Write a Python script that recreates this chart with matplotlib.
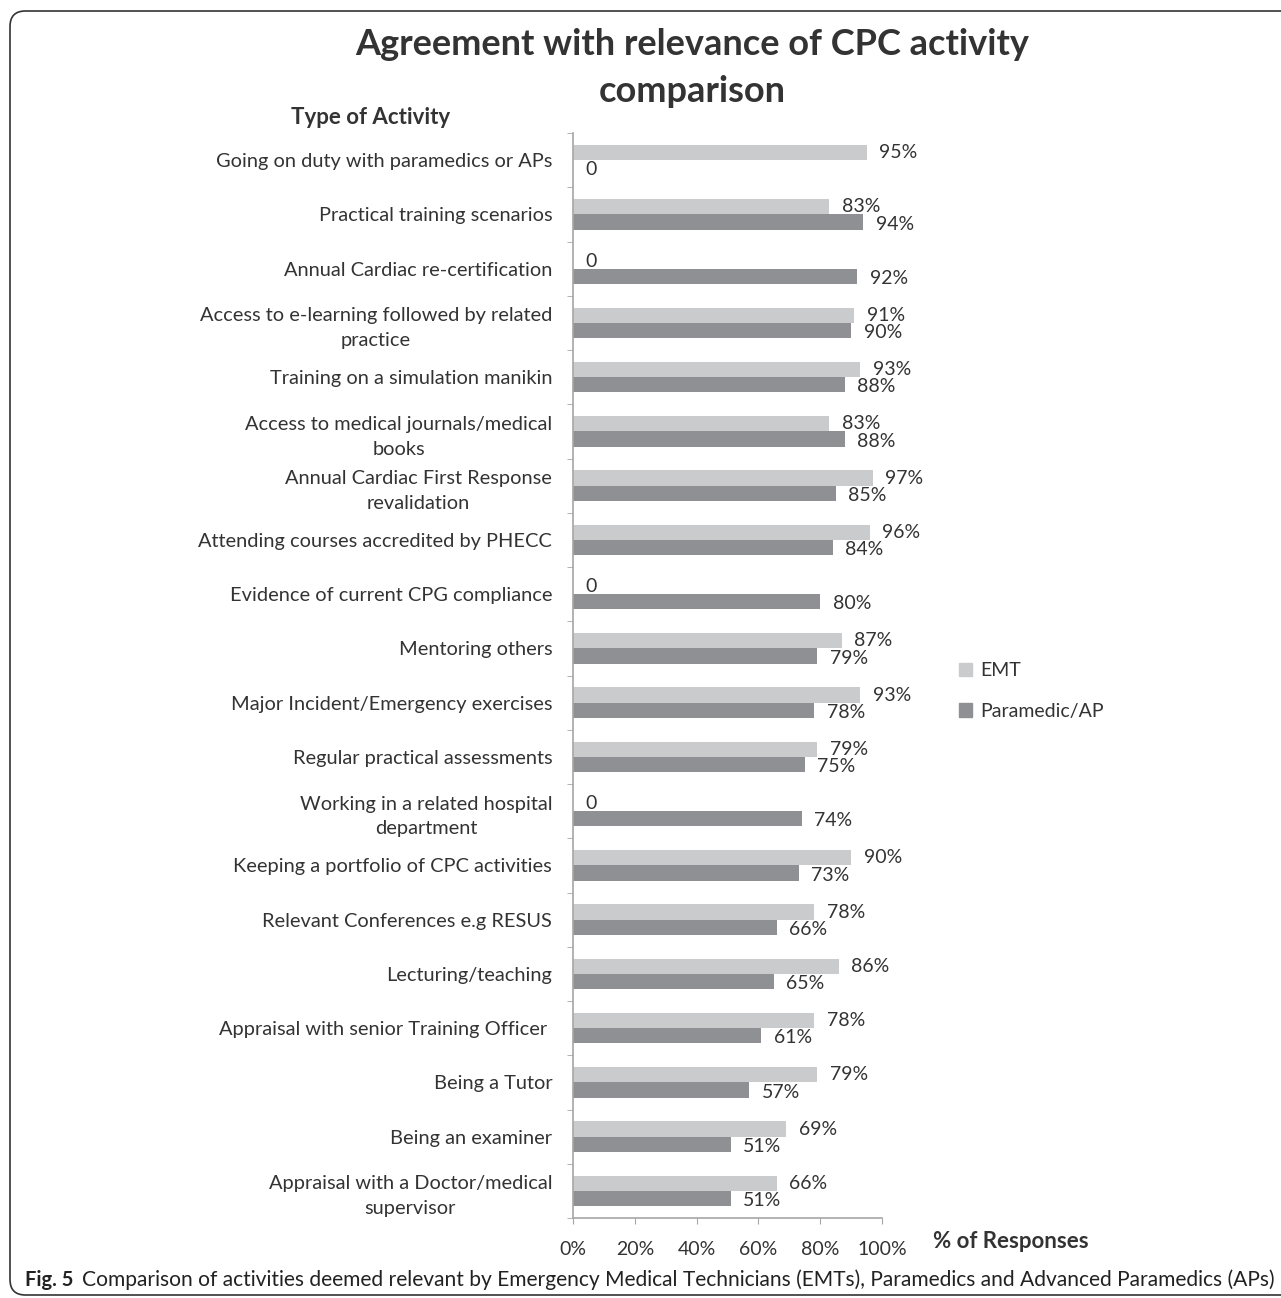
import matplotlib
matplotlib.use('Agg')
import matplotlib.pyplot as plt
from matplotlib.patches import FancyBboxPatch, Patch

plt.rcParams['font.family'] = ['Lato', 'DejaVu Sans']

# activities, top to bottom
activities = [
    'Going on duty with paramedics or APs',
    'Practical training scenarios',
    'Annual Cardiac re-certification',
    'Access to e-learning followed by related\npractice',
    'Training on a simulation manikin',
    'Access to medical journals/medical\nbooks',
    'Annual Cardiac First Response\nrevalidation',
    'Attending courses accredited by PHECC',
    'Evidence of current CPG compliance',
    'Mentoring others',
    'Major Incident/Emergency exercises',
    'Regular practical assessments',
    'Working in a related hospital\ndepartment',
    'Keeping a portfolio of CPC activities',
    'Relevant Conferences e.g RESUS',
    'Lecturing/teaching',
    'Appraisal with senior Training Officer ',
    'Being a Tutor',
    'Being an examiner',
    'Appraisal with a Doctor/medical\nsupervisor',
]
emt = [95, 83, 0, 91, 93, 83, 97, 96, 0, 87, 93, 79, 0, 90, 78, 86, 78, 79, 69, 66]
paramedic = [0, 94, 92, 90, 88, 88, 85, 84, 80, 79, 78, 75, 74, 73, 66, 65, 61, 57, 51, 51]
x_ticks = [0, 20, 40, 60, 80, 100]

emt_color = '#cacbcd'
para_color = '#8f9093'
axis_color = '#a6a6a6'
text_color = '#333333'

W, H = 1281, 1298
fig = plt.figure(figsize=(W / 100, H / 100), dpi=100)
ax = fig.add_axes([573 / W, 1 - 1218 / H, 309 / W, 1085 / H])

bh = 0.28
ypos = list(range(len(activities)))
ax.barh([y - bh / 2 for y in ypos], emt, height=bh, color=emt_color, label='EMT')
ax.barh([y + bh / 2 for y in ypos], paramedic, height=bh, color=para_color, label='Paramedic/AP')

def lab(v):
    return '0' if v == 0 else '%d%%' % v

for y, e, p in zip(ypos, emt, paramedic):
    ax.annotate(lab(e), (e, y - bh / 2), xytext=(9, 0), textcoords='offset points',
                va='center', ha='left', fontsize=14, color=text_color)
    ax.annotate(lab(p), (p, y + bh / 2), xytext=(9, -1.5), textcoords='offset points',
                va='center', ha='left', fontsize=14, color=text_color)

ax.set_xlim(0, 100)
ax.set_ylim(len(activities) - 0.5, -0.5)
ax.set_xticks(x_ticks)
ax.set_xticklabels(['%d%%' % t for t in x_ticks], fontsize=14, color=text_color)
ax.set_yticks(ypos)
ax.set_yticklabels(activities, fontsize=14.4, color=text_color, multialignment='center',
                   linespacing=1.55)
ax.set_yticks([y + 0.5 for y in range(-1, len(activities))], minor=True)
ax.tick_params(axis='y', which='major', length=0, pad=15)
ax.tick_params(axis='y', which='minor', length=4.5, color=axis_color, direction='out')
ax.tick_params(axis='x', length=4.5, color=axis_color, pad=12)
for s in ['top', 'right']:
    ax.spines[s].set_visible(False)
for s in ['left', 'bottom']:
    ax.spines[s].set_color(axis_color)
    ax.spines[s].set_linewidth(1.2)

fig.text(692 / W, 1 - 68 / H, 'Agreement with relevance of CPC activity\ncomparison',
         ha='center', va='center', fontsize=26, fontweight='bold', color=text_color,
         linespacing=1.5)
fig.text(371 / W, 1 - 117 / H, 'Type of Activity', ha='center', va='center',
         fontsize=16, fontweight='bold', color=text_color)
fig.text(1011 / W, 1 - 1241 / H, '% of Responses', ha='center', va='center',
         fontsize=16, fontweight='bold', color=text_color)

handles = [Patch(color=emt_color, label='EMT'), Patch(color=para_color, label='Paramedic/AP')]
fig.legend(handles=handles, loc='center left', bbox_to_anchor=(941 / W, 1 - 691 / H),
           frameon=False, fontsize=14, handlelength=0.7, handleheight=0.7,
           handletextpad=0.4, labelspacing=1.2, labelcolor=text_color)

fig.text(25 / W, 1 - 1280 / H, 'Fig. 5', ha='left', va='center', fontsize=14.5,
         fontweight='bold', color='#222222')
fig.text(82 / W, 1 - 1280 / H,
         'Comparison of activities deemed relevant by Emergency Medical Technicians (EMTs), '
         'Paramedics and Advanced Paramedics (APs)',
         ha='left', va='center', fontsize=15.1, color='#222222')

box = FancyBboxPatch((10 / W, 1 - 1295 / H), 1300 / W, 1284 / H,
                     boxstyle='round,pad=0,rounding_size=0.012',
                     transform=fig.transFigure, fill=False, edgecolor='#333333',
                     linewidth=1.2, clip_on=False)
fig.patches.append(box)

fig.savefig('out.png', dpi=100)
